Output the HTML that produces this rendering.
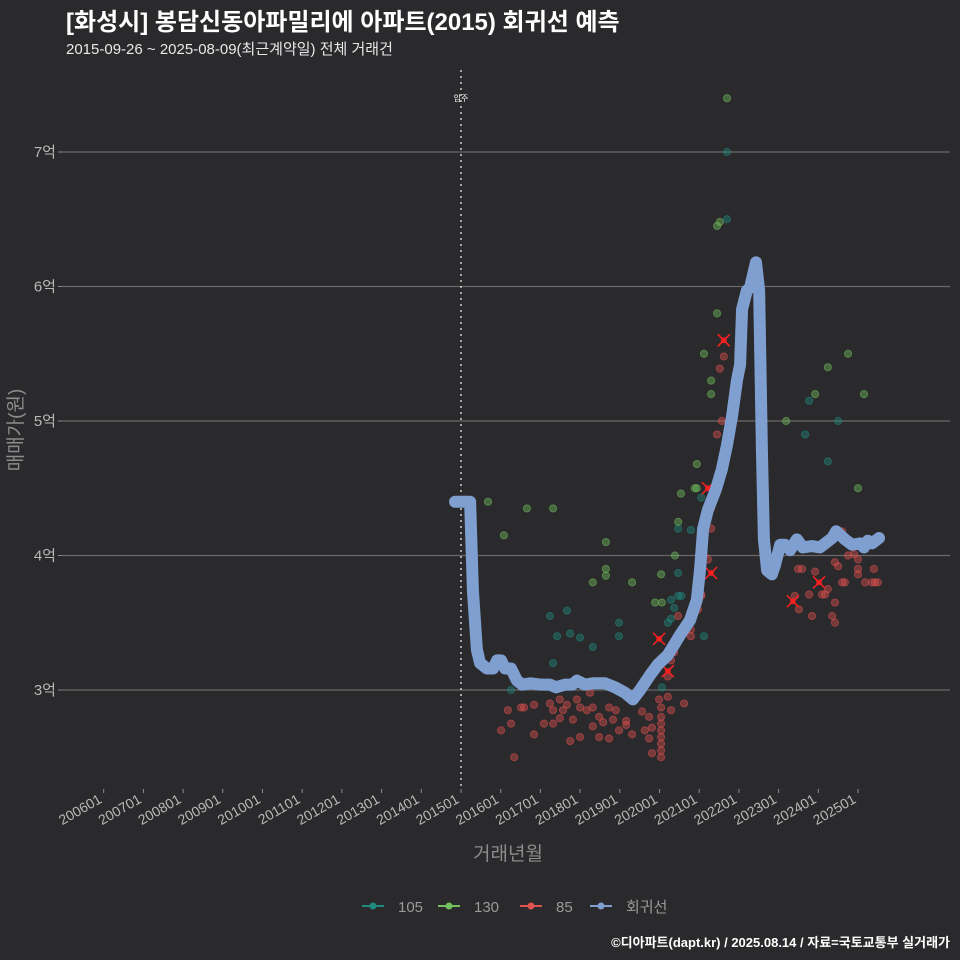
<!DOCTYPE html>
<html><head><meta charset="utf-8">
<style>
html,body{margin:0;padding:0;background:#2a292b;}
svg{display:block;font-family:"Liberation Sans","Noto Sans CJK KR",sans-serif;}
</style></head>
<body>
<svg id="chart" width="960" height="960" viewBox="0 0 960 960" xmlns="http://www.w3.org/2000/svg">
<rect width="960" height="960" fill="#2a292b"/>
<text x="66" y="30" fill="#ffffff" font-size="24" font-weight="bold">[화성시] 봉담신동아파밀리에 아파트(2015) 회귀선 예측</text>
<text x="66" y="54" fill="#e8e8e8" font-size="15">2015-09-26 ~ 2025-08-09(최근계약일) 전체 거래건</text>
<g id="grid"></g>
<g id="axes"></g>
<g id="marks"></g>
<text transform="translate(22,430) rotate(-90)" text-anchor="middle" fill="#8c8c8c" font-size="19">매매가(원)</text>
<text x="508" y="860" text-anchor="middle" fill="#8c8c8c" font-size="19">거래년월</text>
<g id="legend"></g>
<text x="950" y="947" text-anchor="end" fill="#ffffff" font-size="13" font-weight="bold">©디아파트(dapt.kr) / 2025.08.14 / 자료=국토교통부 실거래가</text>
</svg>
<script>
const yTicks = [3, 4, 5, 6, 7];
const yTickLabels = ["3억", "4억", "5억", "6억", "7억"];
const xTickYears = [2006,2007,2008,2009,2010,2011,2012,2013,2014,2015,2016,2017,2018,2019,2020,2021,2022,2023,2024,2025];
const xTickLabels = ["200601","200701","200801","200901","201001","201101","201201","201301","201401","201501","201601","201701","201801","201901","202001","202101","202201","202301","202401","202501"];
const moveInYear = 2015.0;
// series 105 [decimal year, price 억]
const s105 = [[2021.70,7.00],[2021.70,6.50],[2023.77,5.15],[2023.67,4.90],[2024.50,5.00],[2024.24,4.70],[2020.47,4.20],[2020.79,4.19],[2020.47,3.87],[2020.47,3.70],[2020.55,3.70],[2021.05,4.43],[2021.12,3.40],[2020.21,3.50],[2020.29,3.53],[2020.37,3.61],[2020.29,3.67],[2017.24,3.55],[2017.67,3.59],[2017.42,3.40],[2017.75,3.42],[2018.00,3.39],[2018.32,3.32],[2018.98,3.50],[2018.98,3.40],[2017.32,3.20],[2016.26,3.00],[2020.06,3.02]];
const s130 = [[2021.70,7.40],[2021.45,5.80],[2021.45,6.45],[2021.52,6.48],[2021.12,5.50],[2021.30,5.30],[2021.30,5.20],[2020.94,4.68],[2020.89,4.50],[2020.94,4.50],[2020.54,4.46],[2020.47,4.25],[2020.39,4.00],[2020.04,3.86],[2019.89,3.65],[2020.06,3.65],[2023.19,5.00],[2023.92,5.20],[2024.24,5.40],[2024.75,5.50],[2025.15,5.20],[2025.00,4.50],[2015.68,4.40],[2016.08,4.15],[2016.66,4.35],[2017.32,4.35],[2018.65,4.10],[2018.65,3.90],[2018.65,3.85],[2018.32,3.80],[2019.31,3.80]];
const s85 = [[2016.18,2.85],[2016.01,2.70],[2016.26,2.75],[2016.34,2.50],[2016.51,2.87],[2016.59,2.87],[2016.84,2.89],[2016.84,2.67],[2017.09,2.75],[2017.24,2.90],[2017.32,2.85],[2017.49,2.93],[2017.57,2.85],[2017.67,2.89],[2017.32,2.75],[2017.49,2.79],[2017.75,2.62],[2017.82,2.78],[2017.92,2.93],[2018.00,2.87],[2018.00,2.65],[2018.17,2.85],[2018.25,2.98],[2018.32,2.87],[2018.32,2.73],[2018.48,2.80],[2018.48,2.65],[2018.58,2.76],[2018.73,2.87],[2018.73,2.64],[2018.83,2.78],[2018.90,2.85],[2018.98,2.70],[2019.16,2.77],[2019.16,2.74],[2019.31,2.67],[2019.56,2.84],[2019.63,2.70],[2019.74,2.80],[2019.74,2.64],[2019.81,2.72],[2019.81,2.53],[2019.99,2.93],[2020.04,2.87],[2020.04,2.80],[2020.04,2.75],[2020.04,2.70],[2020.04,2.65],[2020.04,2.60],[2020.04,2.55],[2020.04,2.50],[2020.21,2.95],[2020.29,2.85],[2020.62,2.90],[2020.37,3.28],[2020.29,3.22],[2020.21,3.10],[2020.47,3.55],[2020.79,3.45],[2020.79,3.40],[2020.97,3.60],[2021.05,3.70],[2021.30,4.20],[2021.12,4.00],[2021.22,3.97],[2021.30,4.35],[2021.62,5.48],[2021.52,5.39],[2021.57,5.00],[2021.45,4.90],[2021.05,3.71],[2023.49,3.90],[2023.59,3.90],[2023.92,3.88],[2024.09,3.71],[2024.17,3.71],[2024.24,3.75],[2024.42,3.95],[2024.50,3.92],[2024.75,4.00],[2025.00,3.97],[2025.00,3.90],[2025.00,3.86],[2024.60,3.80],[2024.67,3.80],[2025.18,3.80],[2025.35,3.80],[2025.43,3.80],[2025.50,3.80],[2025.40,3.90],[2023.77,3.71],[2023.84,3.55],[2024.35,3.55],[2024.42,3.65],[2024.42,3.50],[2023.51,3.60],[2023.41,3.70],[2024.60,4.18],[2024.90,4.01]];
const crossMarks = [[2021.62,5.60],[2021.30,3.87],[2021.22,4.50],[2019.99,3.38],[2020.21,3.14],[2023.36,3.66],[2024.02,3.80]];
const regYears = [2014.85,2015.23,2015.30,2015.35,2015.40,2015.48,2015.65,2015.81,2015.91,2016.01,2016.11,2016.26,2016.41,2016.54,2016.75,2017.00,2017.24,2017.39,2017.62,2017.80,2017.92,2018.12,2018.32,2018.63,2018.88,2019.13,2019.33,2019.51,2019.76,2019.96,2020.21,2020.52,2020.77,2020.94,2021.02,2021.10,2021.22,2021.42,2021.57,2021.70,2021.83,2021.95,2022.03,2022.08,2022.20,2022.28,2022.43,2022.51,2022.58,2022.63,2022.71,2022.83,2022.91,2023.04,2023.16,2023.29,2023.46,2023.61,2023.84,2024.04,2024.35,2024.45,2024.67,2024.85,2025.05,2025.15,2025.25,2025.35,2025.53];
const regPrices = [4.40,4.40,3.74,3.52,3.30,3.20,3.16,3.16,3.22,3.22,3.16,3.16,3.07,3.04,3.05,3.04,3.04,3.02,3.04,3.04,3.07,3.04,3.05,3.05,3.02,2.98,2.93,3.00,3.11,3.19,3.26,3.41,3.52,3.67,3.89,4.20,4.34,4.49,4.64,4.82,5.04,5.30,5.42,5.83,5.97,5.99,6.18,5.97,4.78,4.12,3.89,3.86,3.93,4.08,4.08,4.04,4.12,4.06,4.07,4.06,4.13,4.18,4.12,4.08,4.09,4.06,4.11,4.09,4.13];
const legendLabels = ["105","130","85","회귀선"];

const NS = "http://www.w3.org/2000/svg";
const xS = yr => 461 + (yr - 2015) * 39.7;
const yS = p => 690 - (p - 3) * 134.5;
function mk(tag, attrs, parent){ const e=document.createElementNS(NS,tag); for(const k in attrs) e.setAttribute(k,attrs[k]); parent.appendChild(e); return e; }
const grid=document.getElementById('grid'), axes=document.getElementById('axes'), marks=document.getElementById('marks'), legend=document.getElementById('legend');

yTicks.forEach((v,i)=>{
  const l=mk('line',{x1:62,x2:950,y1:yS(v),y2:yS(v),stroke:'#6a6a6a','stroke-width':1.2},grid);
  
  
  const t=mk('line',{x1:58,x2:62,y1:yS(v),y2:yS(v),stroke:'#8c8c8c','stroke-width':1},axes);
  
  
  const tx=mk('text',{x:56,y:yS(v)+5,'text-anchor':'end',fill:'#b8b8b8','font-size':15},axes);
  tx.textContent=yTickLabels[i];
  
  
});
xTickYears.forEach((v,i)=>{
  const x=xS(v);
  const t=mk('line',{x1:x,x2:x,y1:789,y2:793,stroke:'#8c8c8c','stroke-width':1},axes);
  
  
  const tx=mk('text',{x:x-1,y:802,'text-anchor':'end',fill:'#b8b8b8','font-size':14,transform:`rotate(-30 ${x-1} 802)`},axes);
  tx.textContent=xTickLabels[i];
  
  
});
const mv=mk('line',{x1:xS(moveInYear),x2:xS(moveInYear),y1:70,y2:790,stroke:'#d0d0d0','stroke-width':1.5,'stroke-dasharray':'2,4'},axes);


const mvt=mk('text',{x:xS(moveInYear),y:101,'text-anchor':'middle',fill:'#ffffff','font-size':8},axes);
mvt.textContent='입주';



function pts(arr,color,name){
  arr.forEach(p=>{
    const c=mk('circle',{cx:xS(p[0]),cy:yS(p[1]),r:3.6,fill:color,'fill-opacity':0.42,stroke:color,'stroke-opacity':0.5,'stroke-width':1},marks);
    
    
  });
}
pts(s85,'#e0524f','point-85');
pts(s105,'#1f8a7e','point-105');
pts(s130,'#72c05e','point-130');
crossMarks.forEach(p=>{
  const x=xS(p[0]),y=yS(p[1]);
  const g=mk('path',{d:`M${x-6} ${y-6}L${x+6} ${y+6}M${x+6} ${y-6}L${x-6} ${y+6}`,stroke:'#ff2020','stroke-width':1.5},marks);
  
  
  const c=mk('circle',{cx:x,cy:y,r:3,fill:'#ff2020','fill-opacity':0.8},marks);
  
  
});
const reg=mk('polyline',{points:regYears.map((y,i)=>xS(y)+','+yS(regPrices[i])).join(' '),fill:'none',stroke:'#7f9fd0','stroke-width':12,'stroke-linejoin':'round','stroke-linecap':'round'},marks);



const lc=['#1f8a7e','#72c05e','#e0524f','#7f9fd0'];
const lx=[362,438,520,590];
legendLabels.forEach((lab,i)=>{
  const g=mk('g',{},legend);
  
  
  mk('line',{x1:lx[i],x2:lx[i]+22,y1:906,y2:906,stroke:lc[i],'stroke-width':2},g);
  mk('circle',{cx:lx[i]+11,cy:906,r:3.5,fill:lc[i]},g);
  const t=mk('text',{x:lx[i]+36,y:912,fill:'#9a9a9a','font-size':15},g);
  t.textContent=lab;
});
</script>
</body></html>
